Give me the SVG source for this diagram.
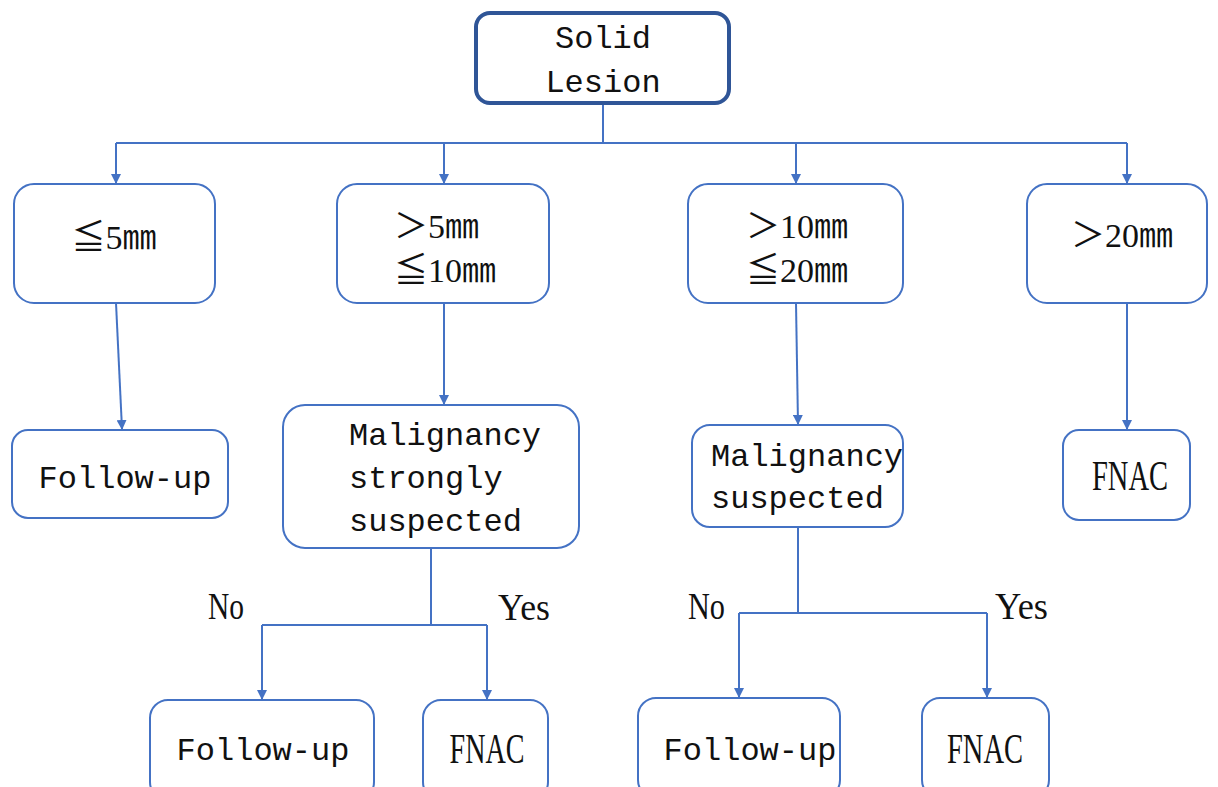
<svg xmlns="http://www.w3.org/2000/svg" width="1218" height="787" viewBox="0 0 1218 787">
<style>
.box{fill:#fff;stroke:#4472C4;stroke-width:2}
.root{fill:#fff;stroke:#2F5597;stroke-width:4}
.ln{fill:none;stroke:#4472C4;stroke-width:2}
.mono{font-family:"Liberation Mono","DejaVu Sans Mono",monospace;font-size:32px;fill:#111}
.ser{font-family:"Liberation Serif","Noto Sans CJK SC",serif;font-size:38px;fill:#111}
.big{font-family:"Liberation Serif","Noto Sans CJK SC",serif;font-size:42px;fill:#111}
.cjk{font-family:"Liberation Serif","Noto Sans CJK SC",serif;font-size:34px;fill:#111}
</style>
<defs>
<marker id="ah" markerWidth="10" markerHeight="10" refX="9" refY="5" orient="auto" markerUnits="userSpaceOnUse">
<path d="M0,0 L10,5 L0,10 Z" fill="#4472C4"/>
</marker>
</defs>
<g id="connectors">
<path class="ln" d="M603,103 V143 M116,143 H1127"/>
<path class="ln" d="M116,143 V183" marker-end="url(#ah)"/>
<path class="ln" d="M444,143 V183" marker-end="url(#ah)"/>
<path class="ln" d="M796,143 V183" marker-end="url(#ah)"/>
<path class="ln" d="M1127,143 V183" marker-end="url(#ah)"/>
<path class="ln" d="M116,303 L122,429" marker-end="url(#ah)"/>
<path class="ln" d="M444,303 V404" marker-end="url(#ah)"/>
<path class="ln" d="M796,303 L798,424" marker-end="url(#ah)"/>
<path class="ln" d="M1127,303 V429" marker-end="url(#ah)"/>
<path class="ln" d="M431,548 V625 M262,625 H487"/>
<path class="ln" d="M262,625 V699" marker-end="url(#ah)"/>
<path class="ln" d="M487,625 V699" marker-end="url(#ah)"/>
<path class="ln" d="M798,527 V613 M739,613 H987"/>
<path class="ln" d="M739,613 V697" marker-end="url(#ah)"/>
<path class="ln" d="M987,613 V697" marker-end="url(#ah)"/>
</g>
<g id="labels">
<text class="ser" x="208" y="619" textLength="36" lengthAdjust="spacingAndGlyphs">No</text>
<text class="ser" x="498" y="620" textLength="52" lengthAdjust="spacingAndGlyphs">Yes</text>
<text class="ser" x="688" y="619" textLength="37" lengthAdjust="spacingAndGlyphs">No</text>
<text class="ser" x="995" y="619" textLength="53" lengthAdjust="spacingAndGlyphs">Yes</text>
</g>
<g id="root">
<rect class="root" x="476" y="13" width="253" height="90" rx="14"/>
<text class="mono" x="603" y="48" text-anchor="middle">Solid</text>
<text class="mono" x="603" y="92" text-anchor="middle">Lesion</text>
</g>
<g id="le5">
<rect class="box" x="14" y="184" width="201" height="119" rx="20"/>
<text class="cjk" x="114" y="249" text-anchor="middle">≦5㎜</text>
</g>
<g id="gt5">
<rect class="box" x="337" y="184" width="212" height="119" rx="20"/>
<text class="cjk" x="394" y="238">＞5㎜</text>
<text class="cjk" x="394" y="282">≦10㎜</text>
</g>
<g id="gt10">
<rect class="box" x="688" y="184" width="215" height="119" rx="20"/>
<text class="cjk" x="746" y="238">＞10㎜</text>
<text class="cjk" x="746" y="282">≦20㎜</text>
</g>
<g id="gt20">
<rect class="box" x="1027" y="184" width="180" height="119" rx="20"/>
<text class="cjk" x="1122" y="247" text-anchor="middle">＞20㎜</text>
</g>
<g id="follow1">
<rect class="box" x="12" y="430" width="216" height="88" rx="16"/>
<text class="mono" x="125" y="488" text-anchor="middle">Follow-up</text>
</g>
<g id="malig1">
<rect class="box" x="283" y="405" width="296" height="143" rx="22"/>
<text class="mono" x="349" y="445">Malignancy</text>
<text class="mono" x="349" y="488">strongly</text>
<text class="mono" x="349" y="531">suspected</text>
</g>
<g id="malig2">
<rect class="box" x="692" y="425" width="211" height="102" rx="18"/>
<text class="mono" x="711" y="466">Malignancy</text>
<text class="mono" x="711" y="508">suspected</text>
</g>
<g id="fnac1">
<rect class="box" x="1063" y="430" width="127" height="90" rx="16"/>
<text class="big" x="1130" y="490" text-anchor="middle" textLength="76" lengthAdjust="spacingAndGlyphs">FNAC</text>
</g>
<g id="follow2">
<rect class="box" x="150" y="700" width="224" height="100" rx="18"/>
<text class="mono" x="263" y="760" text-anchor="middle">Follow-up</text>
</g>
<g id="fnac2">
<rect class="box" x="423" y="700" width="125" height="100" rx="18"/>
<text class="big" x="487" y="763" text-anchor="middle" textLength="75" lengthAdjust="spacingAndGlyphs">FNAC</text>
</g>
<g id="follow3">
<rect class="box" x="638" y="698" width="202" height="100" rx="18"/>
<text class="mono" x="750" y="760" text-anchor="middle">Follow-up</text>
</g>
<g id="fnac3">
<rect class="box" x="922" y="698" width="127" height="100" rx="18"/>
<text class="big" x="985" y="763" text-anchor="middle" textLength="76" lengthAdjust="spacingAndGlyphs">FNAC</text>
</g>
</svg>
